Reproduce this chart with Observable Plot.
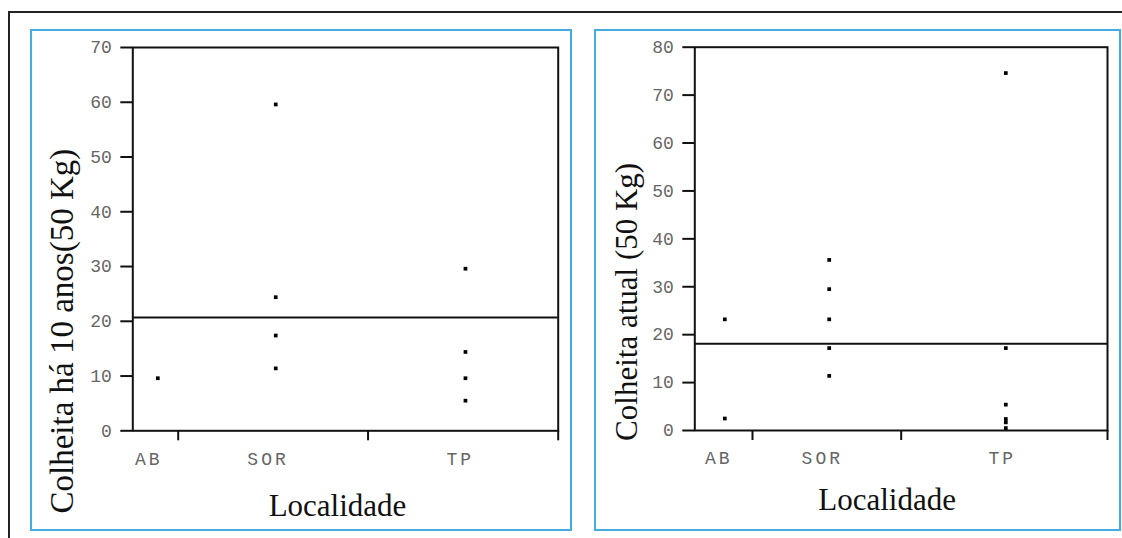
<!DOCTYPE html>
<html>
<head>
<meta charset="utf-8">
<script src="https://cdn.jsdelivr.net/npm/d3@7"></script>
<script src="https://cdn.jsdelivr.net/npm/@observablehq/plot@0.6"></script>
<style>
  html, body { margin: 0; padding: 0; background: #fff; width: 1122px; height: 538px; overflow: hidden; }
  .line { position: absolute; background: #222; }
  .box { position: absolute; box-sizing: border-box; border: 2px solid #45acdf; }
  .chart { position: absolute; }
  .chart svg { display: block; overflow: visible; }
</style>
</head>
<body>
<div class="line" style="left:8px; top:11px; width:1114px; height:2px;"></div>
<div class="line" style="left:8px; top:11px; width:2px; height:527px;"></div>
<div class="box" style="left:30px; top:29px; width:542px; height:502px;"></div>
<div class="box" style="left:594px; top:29px; width:527px; height:502px;"></div>
<div class="chart" id="left" style="left:32px; top:32px;"></div>
<div class="chart" id="right" style="left:597px; top:32px;"></div>
<script>
// ---- data ----
const categories = ["AB", "SOR", "TP"];

// Colheita há 10 anos (50 Kg)
const pastLoc = ["AB", "SOR", "SOR", "SOR", "SOR", "TP", "TP", "TP", "TP"];
const pastVal = [9.6, 59.6, 24.4, 17.4, 11.4, 29.6, 14.4, 9.6, 5.5];
const pastMean = [20.7];
const pastYTicks = [0, 10, 20, 30, 40, 50, 60, 70];

// Colheita atual (50 Kg)
const nowLoc = ["AB", "AB", "SOR", "SOR", "SOR", "SOR", "SOR", "TP", "TP", "TP", "TP", "TP", "TP"];
const nowVal = [23.2, 2.5, 35.6, 29.5, 23.2, 17.2, 11.4, 74.6, 17.2, 5.4, 2.4, 1.7, 0.5];
const nowMean = [18.1];
const nowYTicks = [0, 10, 20, 30, 40, 50, 60, 70, 80];

const xTitle = "Localidade";
const pastTitle = "Colheita há 10 anos(50 Kg)";
const nowTitle = "Colheita atual (50 Kg)";

// ---- layout (fractions of the plot width) ----
const layoutLeft = {
  point: {AB: 0.0588, SOR: 0.336, TP: 0.782},
  label: {AB: 0.0376, SOR: 0.318, TP: 0.770},
  ticks: [0.1067, 0.553, 1.0]
};
const layoutRight = {
  point: {AB: 0.0727, SOR: 0.3257, TP: 0.7536},
  label: {AB: 0.058, SOR: 0.309, TP: 0.745},
  ticks: [0.1398, 0.5001, 1.0]
};

const mono = "'Liberation Mono', 'Courier New', monospace";
const serif = "'Liberation Serif', 'Times New Roman', serif";

function panel({loc, val, mean, yTicks, yMax, lay, title, titleSize, width, height, margins, titleOff, xTitleOff}) {
  const rows = loc.map((l, i) => ({loc: l, v: val[i]}));
  const svg = Plot.plot({
    width, height,
    marginLeft: margins[0], marginRight: margins[1], marginTop: margins[2], marginBottom: margins[3],
    style: {background: "transparent", color: "#111", fontFamily: mono},
    x: {domain: [0, 1], axis: null, label: null},
    y: {domain: [0, yMax], axis: null, label: null},
    marks: [
      Plot.frame({stroke: "#111", strokeWidth: 2}),
      Plot.axisY(yTicks, {tickSize: 12, tickPadding: 9, stroke: "#111", strokeWidth: 2, fill: "#666",
        fontSize: 18, fontFamily: mono, label: null}),
      Plot.axisX(lay.ticks, {tickSize: 10, stroke: "#111", strokeWidth: 2, tickFormat: () => "", label: null}),
      Plot.ruleY(mean, {stroke: "#111", strokeWidth: 2}),
      Plot.dot(rows, {x: d => lay.point[d.loc], y: "v", symbol: "square", r: 2.1, fill: "#000", stroke: null}),
      Plot.text(categories, {x: c => lay.label[c], frameAnchor: "bottom", dy: 28, fill: "#666",
        textAnchor: "middle", lineAnchor: "middle",
        fontSize: 18, fontFamily: mono}),
      Plot.text([xTitle], {frameAnchor: "bottom", dx: xTitleOff[0], dy: xTitleOff[1], fill: "#111",
        textAnchor: "middle", lineAnchor: "middle",
        fontSize: 31, fontFamily: serif}),
      Plot.text([title], {frameAnchor: "left", rotate: -90, dx: titleOff[0], dy: titleOff[1], fill: "#111",
        textAnchor: "middle", lineAnchor: "middle",
        fontSize: titleSize, fontFamily: serif})
    ]
  });
  d3.select(svg).selectAll("text")
    .filter(function () { return categories.includes(this.textContent); })
    .style("letter-spacing", "3px");
  return svg;
}

document.getElementById("left").appendChild(panel({
  loc: pastLoc, val: pastVal, mean: pastMean, yTicks: pastYTicks, yMax: 70, lay: layoutLeft,
  title: pastTitle, titleSize: 33, width: 536, height: 496, margins: [100.3, 10.3, 15, 97.7],
  titleOff: [-70, 92], xTitleOff: [-8, 75]
}));
document.getElementById("right").appendChild(panel({
  loc: nowLoc, val: nowVal, mean: nowMean, yTicks: nowYTicks, yMax: 80, lay: layoutRight,
  title: nowTitle, titleSize: 31, width: 520, height: 496, margins: [97.3, 10, 14.7, 98],
  titleOff: [-68, 63], xTitleOff: [-14, 70]
}));
</script>
</body>
</html>
